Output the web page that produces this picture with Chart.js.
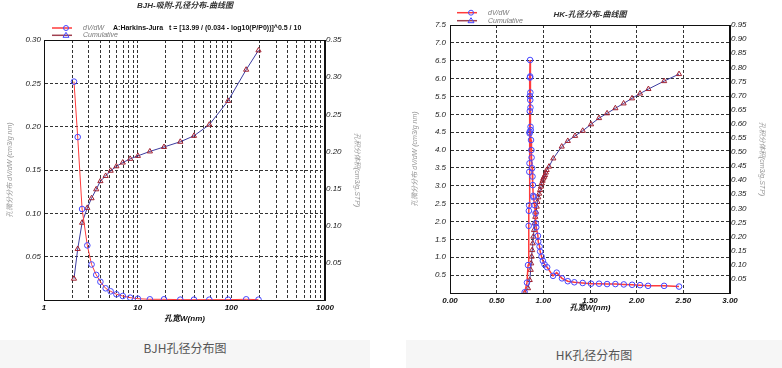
<!DOCTYPE html>
<html>
<head>
<meta charset="utf-8">
<script src="https://cdn.jsdelivr.net/npm/chart.js@4.4.1/dist/chart.umd.min.js"></script>
<style>
  body { margin: 0; background: #fff; width: 782px; height: 368px; overflow: hidden; position: relative; font-family: 'Noto Sans CJK SC', sans-serif; }
  #bjhBox { position: absolute; left: 0; top: 0; width: 370px; height: 330px; }
  #hkBox { position: absolute; left: 406px; top: 0; width: 368px; height: 330px; }
  .cap { position: absolute; top: 340px; height: 28px; background: #f6f6f6; color: #555; font-size: 12px; text-align: center; }
</style>
</head>
<body>
<div id="bjhBox"><canvas id="bjh" width="370" height="330"></canvas></div>
<div id="hkBox"><canvas id="hk" width="368" height="330"></canvas></div>
<div class="cap" style="left:0;width:370px;line-height:16px;">BJH孔径分布图</div>
<div class="cap" style="left:406px;width:376px;line-height:30px;">HK孔径分布图</div>

<script>
// ---- BJH data (pore width nm, log axis) ----
const bjhWidth = [2.09, 2.29, 2.55, 2.9, 3.22, 3.61, 4.0, 4.55, 5.15, 5.93, 6.93, 8.32, 10.05, 13.5, 19.1, 28.5, 39.9, 58.2, 92.3, 144, 195];
const bjhDvdw = [0.252, 0.188, 0.105, 0.063, 0.041, 0.029, 0.021, 0.0135, 0.010, 0.0066, 0.0046, 0.0027, 0.0015, 0.0008, 0.0008, 0.0004, 0.0004, 0.0004, 0.0004, 0.0008, 0.0004];
const bjhCum = [0.0287, 0.0687, 0.104, 0.124, 0.137, 0.149, 0.160, 0.167, 0.174, 0.180, 0.185, 0.190, 0.194, 0.200, 0.206, 0.213, 0.221, 0.236, 0.268, 0.310, 0.336];

const bjhXTicks = [1, 2, 3, 4, 5, 6, 7, 8, 9, 10, 20, 30, 40, 50, 60, 70, 80, 90, 100, 200, 300, 400, 500, 600, 700, 800, 900, 1000];
const bjhXLabels = [1, 10, 100, 1000];
const bjhLeftTicks = [0, 0.05, 0.10, 0.15, 0.20, 0.25, 0.30];
const bjhRightTicks = [0, 0.05, 0.10, 0.15, 0.20, 0.25, 0.30, 0.35];

// ---- HK data (pore width nm, linear axis) ----
const hkDvdwWidth = [0.800, 0.825, 0.836, 0.843, 0.845, 0.848, 0.850, 0.852, 0.853, 0.854, 0.855, 0.856, 0.857, 0.858, 0.859, 0.860, 0.861, 0.862, 0.863, 0.865, 0.868, 0.872, 0.874, 0.880, 0.884, 0.888, 0.892, 0.895, 0.905, 0.916, 0.918, 0.924, 0.942, 0.945, 0.960, 0.966, 0.981, 0.995, 1.013, 1.041, 1.104, 1.143, 1.200, 1.262, 1.332, 1.422, 1.511, 1.597, 1.683, 1.772, 1.862, 1.951, 2.036, 2.122, 2.294, 2.454];
const hkDvdw = [0.02, 0.29, 0.78, 1.88, 2.30, 2.45, 3.39, 3.63, 4.47, 4.51, 5.09, 5.51, 6.03, 6.52, 6.06, 5.40, 5.61, 5.19, 4.65, 4.56, 4.28, 4.00, 3.79, 3.49, 3.26, 3.02, 2.72, 2.68, 2.46, 2.23, 1.95, 1.84, 1.60, 1.44, 1.30, 1.16, 1.02, 0.90, 0.80, 0.72, 0.48, 0.57, 0.41, 0.33, 0.30, 0.28, 0.26, 0.26, 0.25, 0.25, 0.24, 0.23, 0.22, 0.20, 0.20, 0.18];
const hkCumWidth = [0.800, 0.836, 0.854, 0.865, 0.870, 0.875, 0.880, 0.886, 0.893, 0.900, 0.907, 0.914, 0.921, 0.929, 0.937, 0.946, 0.955, 0.965, 0.974, 0.983, 0.992, 1.000, 1.009, 1.018, 1.027, 1.036, 1.061, 1.107, 1.197, 1.262, 1.340, 1.422, 1.511, 1.597, 1.683, 1.772, 1.860, 1.950, 2.036, 2.126, 2.294, 2.454];
const hkCum = [0.000, 0.017, 0.046, 0.082, 0.105, 0.129, 0.152, 0.176, 0.200, 0.223, 0.247, 0.270, 0.288, 0.306, 0.323, 0.339, 0.352, 0.365, 0.377, 0.389, 0.398, 0.406, 0.412, 0.418, 0.427, 0.436, 0.448, 0.477, 0.519, 0.539, 0.557, 0.575, 0.598, 0.620, 0.637, 0.655, 0.672, 0.690, 0.707, 0.723, 0.751, 0.776];

const hkXTicks = [0, 0.5, 1.0, 1.5, 2.0, 2.5, 3.0];
const hkLeftTicks = [0, 0.5, 1.0, 1.5, 2.0, 2.5, 3.0, 3.5, 4.0, 4.5, 5.0, 5.5, 6.0, 6.5, 7.0, 7.5];
const hkRightTicks = [0, 0.05, 0.10, 0.15, 0.20, 0.25, 0.30, 0.35, 0.40, 0.45, 0.50, 0.55, 0.60, 0.65, 0.70, 0.75, 0.80, 0.85, 0.90, 0.95];

const FONT = "'Liberation Sans', Arial, 'Noto Sans CJK SC', sans-serif";
const RED = '#ff3b3b';
const BLUE_PT = '#4646ff';
const CUM_LINE = '#3c3ca0';
const CUM_PT = '#a02030';

function pts(xs, ys) {
  return xs.map((x, i) => ({ x: x, y: ys[i] }));
}

function setTicks(list) {
  return scale => { scale.ticks = list.map(v => ({ value: v })); };
}

// draws the small line+marker legend at fixed spots
function legendPlugin(items) {
  return {
    id: 'lineLegend',
    afterDraw(chart) {
      const ctx = chart.ctx;
      ctx.save();
      items.forEach(it => {
        ctx.setLineDash([]);
        ctx.strokeStyle = it.line;
        ctx.lineWidth = 1.5;
        ctx.beginPath();
        ctx.moveTo(it.x0, it.y);
        ctx.lineTo(it.x1, it.y);
        ctx.stroke();
        ctx.strokeStyle = BLUE_PT;
        ctx.lineWidth = 1;
        ctx.beginPath();
        if (it.marker === 'circle') {
          ctx.arc(it.mx, it.y, 2.5, 0, Math.PI * 2);
        } else {
          ctx.moveTo(it.mx, it.y - 3);
          ctx.lineTo(it.mx + 3, it.y + 2);
          ctx.lineTo(it.mx - 3, it.y + 2);
          ctx.closePath();
        }
        ctx.stroke();
        ctx.fillStyle = '#777';
        ctx.font = 'italic 7px ' + FONT;
        ctx.textBaseline = 'middle';
        ctx.fillText(it.text, it.tx, it.y);
        if (it.extra) {
          ctx.fillStyle = '#111';
          ctx.font = 'bold 7px ' + FONT;
          ctx.fillText(it.extra, it.ex, it.y);
        }
      });
      ctx.restore();
    }
  };
}

const framePlugin = {
  id: 'frame',
  beforeDatasetsDraw(chart) {
    const a = chart.chartArea;
    const ctx = chart.ctx;
    ctx.save();
    ctx.setLineDash([]);
    ctx.strokeStyle = '#111';
    ctx.lineWidth = 1;
    ctx.strokeRect(a.left + 0.5, a.top + 0.5, a.right - a.left - 1, a.bottom - a.top);
    ctx.restore();
  }
};

function tickFont(bold) {
  return { family: FONT, size: 8, style: 'italic', weight: bold ? 'bold' : 'normal' };
}

function datasets(dvX, dvY, cuX, cuY, redWidth) {
  return [
    {
      label: 'dV/dW', data: pts(dvX, dvY), yAxisID: 'y', showLine: true,
      borderColor: RED, borderWidth: redWidth, pointStyle: 'circle', pointRadius: 2.8,
      pointBorderColor: BLUE_PT, pointBackgroundColor: 'rgba(0,0,0,0)', pointBorderWidth: 1
    },
    {
      label: 'Cumulative', data: pts(cuX, cuY), yAxisID: 'y1', showLine: true,
      borderColor: CUM_LINE, borderWidth: 1, pointStyle: 'triangle', pointRadius: 3,
      pointBorderColor: CUM_PT, pointBackgroundColor: 'rgba(0,0,0,0)', pointBorderWidth: 1
    }
  ];
}

function yTitle(text, pad) {
  return { display: true, text: text, color: '#999', font: { family: FONT, size: 7, style: 'italic' }, padding: { top: pad, bottom: pad } };
}

const gridDash = { display: true, color: '#111', width: 1, dash: [3, 2] };

// ---- BJH chart ----
new Chart(document.getElementById('bjh'), {
  type: 'scatter',
  data: { datasets: datasets(bjhWidth, bjhDvdw, bjhWidth, bjhCum, 1) },
  options: {
    responsive: false,
    animation: false,
    devicePixelRatio: 1,
    layout: { padding: 0 },
    plugins: {
      legend: { display: false },
      tooltip: { enabled: false },
      title: {
        display: true, text: 'BJH-吸附-孔径分布-曲线图', color: '#333',
        font: { family: FONT, size: 8, weight: 'bold', style: 'italic' },
        padding: { top: 1.2, bottom: 29.2 }
      }
    },
    scales: {
      x: {
        type: 'logarithmic', min: 1, max: 1000,
        afterBuildTicks: setTicks(bjhXTicks),
        afterFit: s => { s.height = 30; },
        grid: { color: '#333', drawTicks: false },
        border: gridDash,
        ticks: { autoSkip: false, maxRotation: 0, padding: 3, color: '#111', font: tickFont(true),
          callback: v => bjhXLabels.includes(v) ? String(v) : '' },
        title: { display: true, text: '孔宽W(nm)', color: '#111', font: { family: FONT, size: 8, weight: 'bold', style: 'italic' }, padding: { top: 0, bottom: 6.7 } }
      },
      y: {
        position: 'left', min: 0, max: 0.30,
        afterBuildTicks: setTicks(bjhLeftTicks),
        afterFit: s => { s.width = 44; },
        grid: { color: '#333', drawTicks: false },
        border: gridDash,
        ticks: { padding: 3, color: '#222', font: tickFont(false), callback: v => v === 0 ? '' : v.toFixed(2) },
        title: yTitle('孔微分分布 dV/dW (cm3/g nm)', 5.8)
      },
      y1: {
        position: 'right', min: 0, max: 0.35,
        afterBuildTicks: setTicks(bjhRightTicks),
        afterFit: s => { s.width = 45; },
        grid: { drawOnChartArea: false, drawTicks: false },
        border: { display: true, color: '#111' },
        ticks: { padding: 1, color: '#222', font: tickFont(false), callback: v => v === 0 ? '' : v.toFixed(2) },
        title: yTitle('孔积分体积(cm3/g,STP)', 8.8)
      }
    }
  },
  plugins: [framePlugin, legendPlugin([
    { x0: 52, x1: 72, mx: 66, y: 28, line: RED, marker: 'circle', text: 'dV/dW', tx: 83,
      extra: 'A:Harkins-Jura   t = [13.99 / (0.034 - log10(P/P0))]^0.5 / 10', ex: 113 },
    { x0: 52, x1: 72, mx: 66, y: 35.3, line: '#a04050', marker: 'triangle', text: 'Cumulative', tx: 83 }
  ])]
});

// ---- HK chart ----
new Chart(document.getElementById('hk'), {
  type: 'scatter',
  data: { datasets: datasets(hkDvdwWidth, hkDvdw, hkCumWidth, hkCum, 1.5) },
  options: {
    responsive: false,
    animation: false,
    devicePixelRatio: 1,
    layout: { padding: 0 },
    plugins: {
      legend: { display: false },
      tooltip: { enabled: false },
      title: {
        display: true, text: 'HK-孔径分布-曲线图', color: '#333',
        font: { family: FONT, size: 8, weight: 'bold', style: 'italic' },
        padding: { top: 9.5, bottom: 5.9 }
      }
    },
    scales: {
      x: {
        type: 'linear', min: 0, max: 3,
        afterBuildTicks: setTicks(hkXTicks),
        afterFit: s => { s.height = 37; },
        grid: { color: '#333', drawTicks: false },
        border: gridDash,
        ticks: { autoSkip: false, maxRotation: 0, padding: 3, color: '#111', font: tickFont(true),
          callback: v => v.toFixed(2) },
        title: { display: true, text: '孔宽W(nm)', color: '#111', font: { family: FONT, size: 8, weight: 'bold', style: 'italic' }, padding: { top: 0, bottom: 17.2 } }
      },
      y: {
        position: 'left', min: 0, max: 7.5,
        afterBuildTicks: setTicks(hkLeftTicks),
        afterFit: s => { s.width = 44; },
        grid: { color: '#333', drawTicks: false },
        border: gridDash,
        ticks: { padding: 4, color: '#222', font: tickFont(false), callback: v => v === 0 ? '' : v.toFixed(1) },
        title: yTitle('孔微分分布 dV/dW (cm3/g nm)', 4.8)
      },
      y1: {
        position: 'right', min: 0, max: 0.95,
        afterBuildTicks: setTicks(hkRightTicks),
        afterFit: s => { s.width = 44; },
        grid: { drawOnChartArea: false, drawTicks: false },
        border: { display: true, color: '#111' },
        ticks: { padding: 1, color: '#222', font: tickFont(false), callback: v => v === 0 ? '' : v.toFixed(2) },
        title: yTitle('孔积分体积(cm3/g,STP)', 7.8)
      }
    }
  },
  plugins: [framePlugin, legendPlugin([
    { x0: 51, x1: 71, mx: 65, y: 12.7, line: RED, marker: 'circle', text: 'dV/dW', tx: 82 },
    { x0: 51, x1: 71, mx: 65, y: 20.7, line: '#a04050', marker: 'triangle', text: 'Cumulative', tx: 82 }
  ])]
});
</script>
</body>
</html>
